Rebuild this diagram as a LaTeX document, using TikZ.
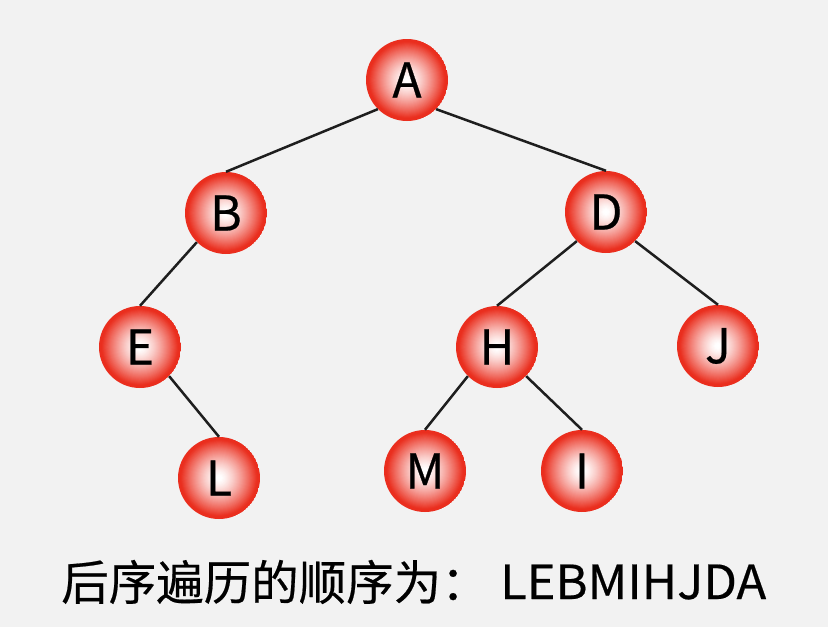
\documentclass[tikz,border=0pt]{standalone}
\usepackage{fontspec}
\setmainfont[FakeBold=0.4]{Noto Sans CJK SC}
\newfontfamily\latinw[FakeStretch=1.04,FakeBold=0.4]{Noto Sans CJK SC}
\newfontfamily\nodefont[FakeBold=0.5]{Noto Sans CJK SC}
\definecolor{bgc}{RGB}{242,242,242}
\definecolor{nred}{RGB}{234,46,30}
\definecolor{edgec}{RGB}{30,30,30}
\tikzset{
  tnode/.style={circle, minimum size=82pt, inner sep=0pt, text=black,
    font=\nodefont\fontsize{48}{50}\selectfont,
    path picture={
      \foreach \k in {0,...,40}{
        \pgfmathsetmacro\rr{1-\k/40}
        \pgfmathsetmacro\pp{max(0,min(100,100*((max(0,\rr-0.06)/0.88)^1.3)))}
        \fill[nred!\pp!white] (path picture bounding box.center) circle (41*\rr);
      }
    }},
  tedge/.style={draw=edgec, line width=2.5pt}
}
\begin{document}
\begin{tikzpicture}[x=1pt,y=-1pt]
\fill[bgc] (0,0) rectangle (828,627);
\useasboundingbox (0,0) rectangle (828,627);
\node[tnode] (A) at (407,80) {A};
\node[tnode] (B) at (226,213) {B};
\node[tnode] (D) at (606,212) {D};
\node[tnode] (E) at (140,347) {E};
\node[tnode] (H) at (497,347) {H};
\node[tnode] (J) at (718,346) {J};
\node[tnode] (L) at (219,478) {L};
\node[tnode] (M) at (425,471) {M};
\node[tnode] (I) at (582,471) {I};
\draw[tedge] (A.south west) -- (B.north);
\draw[tedge] (A.south east) -- (D.north);
\draw[tedge] (B.south west) -- (E.north);
\draw[tedge] (D.south west) -- (H.north);
\draw[tedge] (D.south east) -- (J.north);
\draw[tedge] (E.south east) -- (L.north);
\draw[tedge] (H.south west) -- (M.north);
\draw[tedge] (H.south east) -- (I.north);
\node[anchor=base west, inner sep=0pt, font=\fontsize{47.5}{50}\selectfont] (cap) at (61,600) {后序遍历的顺序为：};
\node[anchor=base west, inner sep=0pt, font=\latinw\fontsize{47}{50}\selectfont] (seq) at (500,599) {LEBMIHJDA};
\end{tikzpicture}
\end{document}
